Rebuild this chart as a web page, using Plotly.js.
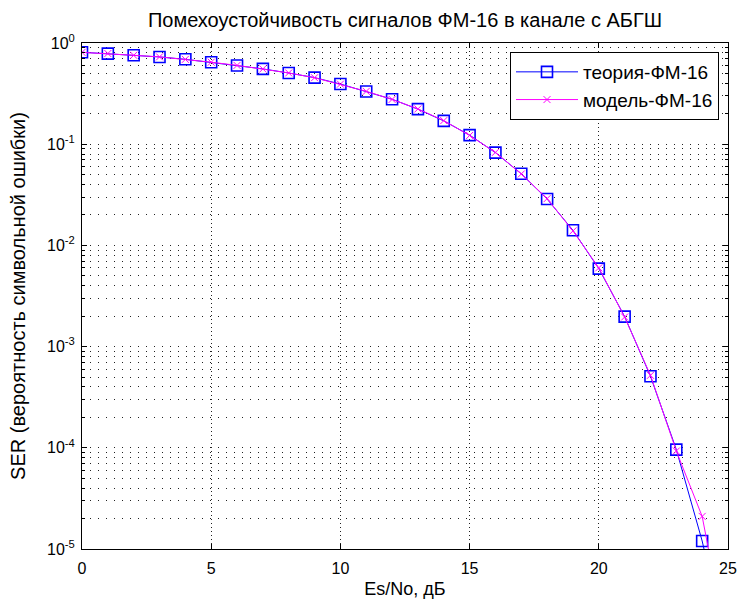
<!DOCTYPE html>
<html>
<head>
<meta charset="utf-8">
<script src="https://cdn.plot.ly/plotly-3.0.1.min.js"></script>
<style>body{margin:0;padding:0;background:#fff;}#chart{width:739px;height:601px;}</style>
</head>
<body>
<div id="chart"></div>
<script>
// Es/No, dB
const esno = [0,1,2,3,4,5,6,7,8,9,10,11,12,13,14,15,16,17,18,19,20,21,22,23,24,25];
// theoretical SER, 16-PSK
const serTheory = [0.81,0.785,0.757,0.728,0.69,0.645,0.60,0.555,0.505,0.455,0.393,0.332,0.278,0.222,0.170,0.123,0.0825,0.0510,0.0287,0.0141,0.0059,0.00198,5.1e-4,9.6e-5,1.2e-5,9.3e-7];
// simulated SER, 16-PSK
const serModel = [0.808,0.787,0.756,0.729,0.689,0.646,0.601,0.554,0.506,0.454,0.392,0.333,0.277,0.223,0.171,0.122,0.0830,0.0508,0.0290,0.0139,0.0060,0.00196,5.2e-4,9.3e-5,2.1e-5,1.0e-6];
const seriesNames = ['теория-ФМ-16','модель-ФМ-16'];
const xTicks = [0,5,10,15,20,25];
const yTickVals = [1e-5,1e-4,1e-3,1e-2,1e-1,1];
const yTickText = ['10<sup>-5</sup>','10<sup>-4</sup>','10<sup>-3</sup>','10<sup>-2</sup>','10<sup>-1</sup>','10<sup>0</sup>'];

const FONT = 'Arial, "Liberation Sans", sans-serif';

const traces = [
  {x: esno, y: serTheory, name: seriesNames[0], type: 'scatter', mode: 'lines+markers',
   line: {color: '#0000ff', width: 1},
   marker: {symbol: 'square-open', size: 11, color: '#0000ff', line: {width: 1.6, color: '#0000ff'}}},
  {x: esno, y: serModel, name: seriesNames[1], type: 'scatter', mode: 'lines+markers',
   line: {color: '#ff00ff', width: 1},
   marker: {symbol: 'x-thin-open', size: 7, color: '#ff00ff', line: {width: 1, color: '#ff00ff'}}}
];

const layout = {
  width: 739, height: 601, autosize: false,
  paper_bgcolor: '#ffffff', plot_bgcolor: '#ffffff',
  margin: {l: 82, r: 11, t: 43, b: 52, pad: 0},
  font: {family: FONT, color: '#000', size: 16},
  title: {text: 'Помехоустойчивость сигналов ФМ-16 в канале с АБГШ',
          font: {family: FONT, size: 20, color: '#000'},
          x: 0.5, xref: 'paper', xanchor: 'center', y: 1 - 20/601, yref: 'container', yanchor: 'middle'},
  xaxis: {
    range: [0, 25], tickmode: 'array', tickvals: xTicks, ticktext: xTicks.map(String),
    ticks: 'inside', ticklen: 5, tickcolor: '#000', tickwidth: 1,
    showline: true, linecolor: '#000', linewidth: 1, mirror: 'allticks',
    showgrid: true, gridcolor: '#222', gridwidth: 1, griddash: '1px,3px',
    zeroline: false, tickfont: {family: FONT, size: 16}, ticklabelstandoff: 5,
    title: {text: 'Es/No, дБ', font: {family: FONT, size: 18}, standoff: 6}
  },
  yaxis: {
    type: 'log', range: [-5, 0], tickmode: 'array', tickvals: yTickVals, ticktext: yTickText,
    ticks: 'inside', ticklen: 5, tickcolor: '#000', tickwidth: 1,
    showline: true, linecolor: '#000', linewidth: 1, mirror: 'allticks',
    showgrid: true, gridcolor: '#222', gridwidth: 1, griddash: '1px,7px',
    zeroline: false, tickfont: {family: FONT, size: 16}, ticklabelstandoff: 3,
    minor: {dtick: 'D1', ticks: 'inside', ticklen: 3, tickcolor: '#000',
            showgrid: true, gridcolor: '#222', gridwidth: 1, griddash: '1px,7px'},
    title: {text: 'SER (вероятность символьной ошибки)', font: {family: FONT, size: 20}, standoff: 16}
  },
  legend: {x: (719-82)/646, xanchor: 'right', y: 1 - 9/506, yanchor: 'top',
           bgcolor: '#ffffff', bordercolor: '#000', borderwidth: 1,
           font: {family: FONT, size: 19, color: '#000'}, itemwidth: 62, tracegroupgap: 0},
  showlegend: true
};

Plotly.newPlot('chart', traces, layout, {staticPlot: true, displayModeBar: false});
</script>
</body>
</html>
